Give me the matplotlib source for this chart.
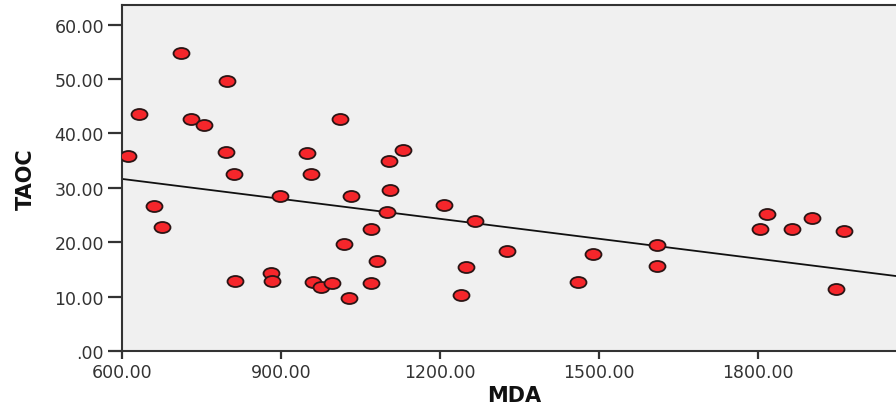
import matplotlib
matplotlib.use("Agg")
import matplotlib.pyplot as plt
import matplotlib.path as mpath
from matplotlib.transforms import Affine2D
import numpy as np

plt.rcParams['font.family'] = ['DejaVu Sans']

# data (MDA vs TAOC)
mda = [611, 632, 711, 660, 676, 730, 755, 798, 796, 811, 813, 881, 883, 898,
       949, 957, 961, 976, 996, 1012, 1019, 1029, 1032, 1070, 1070, 1081,
       1104, 1100, 1106, 1130, 1208, 1249, 1266, 1240, 1327, 1461, 1489,
       1610, 1610, 1804, 1817, 1865, 1903, 1948, 1963]
taoc = [35.9, 43.6, 54.8, 26.7, 22.8, 42.7, 41.6, 49.7, 36.6, 32.6, 12.9,
        14.4, 12.9, 28.5, 36.4, 32.6, 12.7, 11.8, 12.5, 42.7, 19.7, 9.8,
        28.5, 22.5, 12.5, 16.6, 35.0, 25.6, 29.5, 37.0, 26.9, 15.5, 23.9,
        10.2, 18.4, 12.7, 17.9, 19.5, 15.7, 22.5, 25.2, 22.5, 24.5, 11.4, 22.0]
x_ticks = [600, 900, 1200, 1500, 1800]
y_ticks = [0, 10, 20, 30, 40, 50, 60]

fig = plt.figure(figsize=(8.96, 4.10), dpi=100)
ax = fig.add_axes([0.1362, 0.1415, 0.8638, 0.8439])
ax.set_facecolor('#f0f0f0')

# fit line
slope, icpt = np.polyfit(mda, taoc, 1)
xl = np.array([600, 2061])
ax.plot(xl, icpt + slope * xl, color='#111111', lw=1.3, zorder=2)

# slightly wide ellipse marker like the original
ell = mpath.Path.unit_circle().transformed(Affine2D().scale(1.45, 1.0))
ax.scatter(mda, taoc, marker=ell, s=11.5 ** 2, facecolor='#f5262b',
           edgecolor='#2a1515', linewidth=1.3, zorder=3)

ax.set_xlim(600, 2061)
ax.set_ylim(0, 63.6)
ax.set_xticks(x_ticks)
ax.set_yticks(y_ticks)
ax.set_xticklabels([f"{v:.2f}" for v in x_ticks])
ax.set_yticklabels([f"{v:.2f}".lstrip('0') if v == 0 else f"{v:.2f}" for v in y_ticks])
ax.tick_params(axis='y', length=10, width=1.6, color='#333333', labelsize=12.5,
               labelcolor='#333333', pad=3)
ax.tick_params(axis='x', length=6, width=1.6, color='#333333', labelsize=12.5,
               labelcolor='#333333', pad=3)

for s in ['left', 'bottom', 'top']:
    ax.spines[s].set_color('#333333')
    ax.spines[s].set_linewidth(1.5)
ax.spines['right'].set_visible(False)

ax.set_xlabel('MDA', fontsize=15, fontweight='bold', color='#111111')
ax.set_ylabel('TAOC', fontsize=15, fontweight='bold', color='#111111')
ax.xaxis.set_label_coords(0.5065, -0.098)
ax.yaxis.set_label_coords(-0.111, 0.5)

fig.savefig('out.png', dpi=100)
